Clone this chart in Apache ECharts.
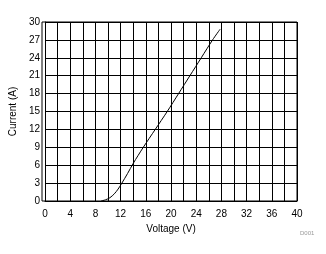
<!DOCTYPE html>
<html><head><meta charset="utf-8">
<script src="https://cdn.jsdelivr.net/npm/echarts@6/dist/echarts.min.js"></script>
<style>html,body{margin:0;padding:0;background:#fff}#c{width:326px;height:254px}</style>
</head><body><div id="c"></div>
<script>
const voltage = [8.9, 9.6, 10.3, 11.0, 11.6, 12.2, 13.1, 14.0, 15.6, 17.5, 19.4, 21.2, 23.0, 24.8, 26.6, 27.8];
const current = [0, 0.2, 0.55, 1.2, 2.0, 3.0, 4.6, 6.3, 9.0, 12.0, 15.0, 18.0, 21.0, 24.0, 27.0, 28.8];
const xTitle = 'Voltage (V)';
const yTitle = 'Current (A)';
const note = 'D001';

const chart = echarts.init(document.getElementById('c'), null, {renderer: 'canvas'});
const font = 'Liberation Sans, Arial, sans-serif';
chart.setOption({
  animation: false,
  grid: {left: 42, right: 29, top: 22, bottom: 53, containLabel: false},
  xAxis: {
    type: 'value', min: 0, max: 40, interval: 2,
    name: xTitle, nameLocation: 'middle', nameGap: 21,
    nameTextStyle: {color: '#000', fontSize: 10, fontFamily: font},
    axisLine: {show: true, lineStyle: {color: '#000', width: 1}},
    axisTick: {show: false},
    axisLabel: {color: '#000', fontSize: 10, fontFamily: font, margin: 8,
      formatter: v => (v % 4 === 0 ? String(v) : '')},
    splitLine: {show: true, lineStyle: {color: '#000', width: 1}}
  },
  yAxis: {
    type: 'value', min: 0, max: 30, interval: 3,
    name: yTitle, nameLocation: 'middle', nameGap: 25,
    nameTextStyle: {color: '#000', fontSize: 10, fontFamily: font},
    axisLine: {show: true, lineStyle: {color: '#000', width: 1}},
    axisTick: {show: false},
    axisLabel: {color: '#000', fontSize: 10, fontFamily: font, margin: 5},
    splitLine: {show: true, lineStyle: {color: '#000', width: 1}}
  },
  graphic: [
    {type: 'rect', shape: {x: 42, y: 22, width: 255, height: 179}, style: {fill: 'none', stroke: '#000', lineWidth: 1}, silent: true, z: 10},
    {type: 'text', left: 300, top: 230, style: {text: note, fill: '#999', fontSize: 6, fontFamily: font}}
  ],
  series: [{
    type: 'line', data: voltage.map((v, i) => [v, current[i]]),
    smooth: 0.3, symbol: 'none',
    lineStyle: {color: '#000', width: 1}, z: 5
  }]
});
</script></body></html>
